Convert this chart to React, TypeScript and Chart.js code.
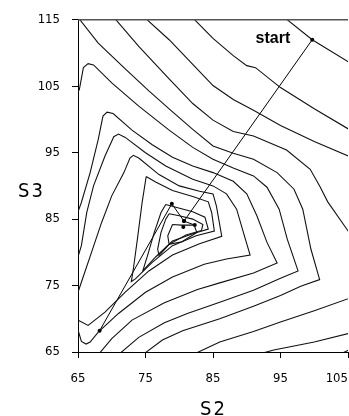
import { useEffect, useRef } from "react";
import { Chart, registerables } from "chart.js";

Chart.register(...registerables);

type Pt = [number, number];

// axis ticks
const S2_TICKS = [65, 75, 85, 95, 105];
const S3_MIN = 65;
const S3_MAX = 115;
const S2_MIN = 65;
const S2_MAX = 105;

// contour lines of the response surface, outermost first (S2, S3)
const contour01: Pt[] = [[95.4, 115.5], [99.7, 112], [105.5, 108.4]];
const contour02: Pt[] = [[81.8, 115.5], [85, 112.2], [88, 109.6], [90, 108.1], [91.3, 107.8], [95, 104.8], [100, 101.6], [105.5, 98.3]];
const contour02low: Pt[] = [[103.5, 64.5], [105.5, 65.5]];
const contour03: Pt[] = [[74.7, 115.5], [78.5, 112], [82, 108.3], [85, 105.1], [88, 103], [91, 101.4], [95, 99.1], [100, 96.7], [105.5, 94.3]];
const contour03low: Pt[] = [[91.5, 64.6], [94, 65.3], [100, 66.5], [105.5, 67.9]];
const contour04: Pt[] = [[70.2, 115.5], [74, 111], [78.5, 106.1], [82, 102.4], [85, 99.9], [88, 98.2], [91, 97.5], [95.9, 95.4], [99.4, 92.5], [100.8, 90], [102, 87.6], [105.5, 82.5]];
const contour04low: Pt[] = [[105.5, 73.2], [100, 71.2], [95, 69.5], [91, 68.1], [86, 66.5], [82, 64.6]];
const contour05: Pt[] = [[64.9, 115.5], [68, 111.5], [72, 107.6], [75.5, 104.3], [78.5, 101.6], [82, 98.5], [85, 96.0], [88, 94.9], [91, 94.0], [94.5, 92], [97, 89.5], [98.3, 86.5], [99.5, 80.5], [100.8, 75.9], [98, 74.9], [95, 73.5], [91, 71.9], [86, 70], [80.5, 68.2], [77.5, 66.8], [74.6, 64.6]];
const contour06: Pt[] = [[64.6, 103.5], [65.2, 104.5], [65.8, 107.8], [66.5, 108.4], [67.3, 108.2], [70, 105.5], [74, 102], [78.5, 98.4], [82, 95.8], [85, 94.0], [88, 92.7], [91, 91.5], [93, 89.8], [94.8, 86.5], [96, 82], [97.6, 77.2], [95, 76.1], [91, 74.3], [86, 72.5], [81.2, 70.8], [77.8, 69.4], [74, 67.2], [71, 64.6]];
const contour07: Pt[] = [[64.6, 85], [65.5, 87.5], [66.8, 92], [68, 97], [68.7, 100.5], [69.3, 101.1], [70.2, 100.9], [73, 98.4], [76, 96.2], [79, 94.3], [82, 93], [85, 92.0], [88, 90.7], [90, 88.8], [91.5, 85.5], [93, 81.5], [94.5, 78.4], [91, 76.9], [86, 75.4], [82.7, 74.4], [77.8, 72.4], [73, 69.8], [70, 67], [68, 64.6]];
const contour08: Pt[] = [[64.6, 78], [65.5, 81], [66.3, 86], [67.3, 90], [69, 94.5], [70.3, 97.4], [71, 97.8], [72, 97.3], [75, 95], [78, 93], [82, 91], [85, 90.0], [87, 88.8], [88.5, 86.5], [89.5, 83], [90.5, 79.6], [87, 79.0], [83.7, 78.2], [79, 76.3], [75, 74], [71, 70.8], [68, 68], [66.8, 66.5], [66.2, 66.2], [65.5, 66.6], [65.1, 68], [64.6, 69.5]];
const contour09: Pt[] = [[64.6, 72.8], [65.5, 75.5], [67, 80], [68.5, 84.5], [70, 88.5], [71.8, 92], [72.7, 94.2], [73.2, 94.6], [74, 94.2], [77, 91.7], [80, 90], [83, 89.2], [85, 88.8], [85.5, 87], [86.3, 82.4], [83, 81.3], [79, 79.6], [75.5, 77.2], [72, 74], [69, 71], [66.5, 69], [64.6, 70]];
const contour10: Pt[] = [[75.1, 91.4], [76.5, 90.6], [79, 89.3], [82, 88.4], [84.3, 87.6], [84.8, 86], [85.2, 83.2], [82.5, 82.5], [79, 81], [76, 78.5], [73.5, 76], [72.9, 75.6], [73.2, 77.5], [73.8, 82], [74.5, 87.5], [75.1, 91.4]];
const contour11: Pt[] = [[78, 87.2], [79.5, 86.8], [82, 86.1], [83.8, 85.3], [84.3, 83.5], [82, 82.8], [79, 81.7], [76.5, 79.3], [74.6, 77.2], [75.3, 79.5], [76.3, 83], [77.3, 86], [78, 87.2]];
const contour12: Pt[] = [[78.5, 85.8], [80, 85.5], [82, 85.0], [83.5, 84.2], [83.3, 83.3], [81, 82.6], [78.5, 81.2], [77, 79.5], [76.8, 80.5], [77.3, 83], [78, 85], [78.5, 85.8]];
const contour13: Pt[] = [[79.0, 84.2], [80.3, 84.1], [82.2, 84.1], [82.6, 83], [80.4, 81.6], [78.5, 81.2], [78.3, 82.5], [79.0, 84.2]];

const contours: Pt[][] = [
  contour01, contour02, contour02low, contour03, contour03low, contour04, contour04low,
  contour05, contour06, contour07, contour08, contour09, contour10, contour11, contour12, contour13,
];

// optimisation search path
const searchPath: Pt[] = [[99.7, 112], [80.7, 84.7], [82.3, 84.1]];
const searchReturn: Pt[] = [[68.2, 68.2], [78.9, 87.3], [80.7, 84.7]];
const lonePoint: Pt[] = [[80.6, 83.8]];
const START = searchPath[0];

const VISIBLE_W = 349;
const H = 416;

const toXY = (pts: Pt[]) => pts.map(([x, y]) => ({ x, y }));

const decor = {
  id: "decor",
  afterDraw(chart: any) {
    const { ctx, chartArea, scales } = chart;
    const xs = scales.x;
    const ys = scales.y;
    ctx.save();
    // top frame line
    ctx.strokeStyle = "#555";
    ctx.lineWidth = 1.5;
    ctx.beginPath();
    ctx.moveTo(chartArea.left, chartArea.top);
    ctx.lineTo(chartArea.right, chartArea.top);
    ctx.stroke();

    // S2 tick labels, kept inside the canvas
    ctx.fillStyle = "#000";
    ctx.font = '13px "Liberation Sans Narrow", "DejaVu Sans Condensed", sans-serif';
    ctx.textAlign = "center";
    ctx.textBaseline = "alphabetic";
    for (const v of S2_TICKS) {
      const t = String(v);
      const w = ctx.measureText(t).width;
      const px = Math.min(xs.getPixelForValue(v), VISIBLE_W - w / 2 - 1);
      ctx.fillText(t, px, chartArea.bottom + 30);
    }

    // axis titles
    ctx.font = '20px "Liberation Sans Narrow", "DejaVu Sans Condensed", sans-serif';
    (ctx as any).letterSpacing = "2px";
    ctx.textAlign = "left";
    ctx.fillText("S3", 18, 197);
    ctx.textAlign = "center";
    ctx.fillText("S2", (chartArea.left + VISIBLE_W) / 2, chartArea.bottom + 63);
    (ctx as any).letterSpacing = "0px";

    // start label
    ctx.font = 'bold 16px "Liberation Sans", Arial, sans-serif';
    ctx.textAlign = "right";
    const sx = xs.getPixelForValue(START[0]);
    const sy = ys.getPixelForValue(START[1]);
    ctx.fillText("start", sx - 22, sy + 3);
    ctx.restore();
  },
};

export default function App() {
  const ref = useRef<HTMLCanvasElement | null>(null);

  useEffect(() => {
    document.body.style.margin = "0";
    const canvas = ref.current;
    if (!canvas) return;

    const lineSets = contours.map((c) => ({
      data: toXY(c),
      showLine: true,
      borderColor: "#111",
      borderWidth: 1.1,
      pointRadius: 0,
      tension: 0,
    }));

    const pathStyle = {
      showLine: true,
      borderColor: "#000",
      borderWidth: 1,
      pointRadius: 2,
      pointBackgroundColor: "#000",
      pointBorderWidth: 0,
      tension: 0,
    };

    const chart = new Chart(canvas, {
      type: "scatter",
      data: {
        datasets: [
          ...lineSets,
          { data: toXY(searchPath), ...pathStyle },
          { data: toXY(searchReturn), ...pathStyle },
          { data: toXY(lonePoint), ...pathStyle, showLine: false },
        ],
      },
      options: {
        animation: false,
        responsive: false,
        devicePixelRatio: 1,
        layout: { padding: { left: 0, top: 15, right: 1, bottom: 0 } },
        plugins: { legend: { display: false }, tooltip: { enabled: false } },
        events: [],
        scales: {
          x: {
            type: "linear",
            min: S2_MIN,
            max: S2_MAX,
            ticks: { display: false, stepSize: 10 },
            grid: { drawOnChartArea: false, drawTicks: true, tickLength: 6, color: "#000" },
            border: { display: true, color: "#000", width: 1 },
            afterFit: (s: any) => {
              s.height = 64;
            },
          },
          y: {
            type: "linear",
            min: S3_MIN,
            max: S3_MAX,
            ticks: {
              stepSize: 10,
              padding: 12,
              color: "#000",
              font: { family: '"Liberation Sans Narrow", "DejaVu Sans Condensed", sans-serif', size: 13 },
            },
            grid: { drawOnChartArea: false, drawTicks: true, tickLength: 6, color: "#000" },
            border: { display: true, color: "#000", width: 1 },
            afterFit: (s: any) => {
              s.width = 78;
            },
          },
        },
      },
      plugins: [decor],
    });

    return () => chart.destroy();
  }, []);

  return (
    <div style={{ width: VISIBLE_W, height: H, overflow: "hidden", position: "relative", background: "#fff" }}>
      <canvas ref={ref} width={352} height={H} style={{ display: "block", width: 352, height: H }} />
    </div>
  );
}
